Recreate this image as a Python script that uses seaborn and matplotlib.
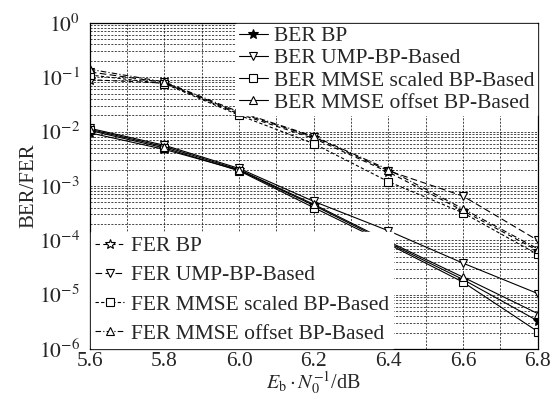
import matplotlib
matplotlib.use("Agg")
import numpy as np
import pandas as pd
import matplotlib.pyplot as plt
import seaborn as sns
from matplotlib.ticker import LogLocator, MultipleLocator, NullFormatter

# x axis: Eb/N0 in dB
ebn0 = [5.6, 5.8, 6.0, 6.2, 6.4, 6.6, 6.8]
schemes = ["BP", "UMP-BP-Based", "MMSE scaled BP-Based", "MMSE offset BP-Based"]

# solid curves (legend in the upper right says BER)
ber_bp = [9.5e-3, 4.7e-3, 1.95e-3, 4.4e-4, 9.0e-5, 1.9e-5, 3.3e-6]
ber_ump = [1.15e-2, 5.6e-3, 2.1e-3, 5.2e-4, 1.5e-4, 3.8e-5, 1.05e-5]
ber_scaled = [1.05e-2, 5.0e-3, 1.9e-3, 4.0e-4, 8.5e-5, 1.7e-5, 2.1e-6]
ber_offset = [1.1e-2, 5.3e-3, 2.0e-3, 4.6e-4, 9.5e-5, 2.1e-5, 4.5e-6]

# dashed curves (legend in the lower left says FER)
fer_bp = [9.0e-2, 7.8e-2, 2.1e-2, 7.5e-3, 1.8e-3, 3.5e-4, 6.5e-5]
fer_ump = [1.25e-1, 8.0e-2, 2.2e-2, 8.0e-3, 1.9e-3, 6.5e-4, 1.0e-4]
fer_scaled = [1.1e-1, 7.6e-2, 2.0e-2, 6.0e-3, 1.2e-3, 3.2e-4, 5.5e-5]
fer_offset = [1.4e-1, 8.2e-2, 2.3e-2, 8.2e-3, 2.0e-3, 3.8e-4, 7.0e-5]

y_ticks = [1e0, 1e-1, 1e-2, 1e-3, 1e-4, 1e-5, 1e-6]
y_tick_labels = [r"$10^{0}$", r"$10^{-1}$", r"$10^{-2}$", r"$10^{-3}$",
                 r"$10^{-4}$", r"$10^{-5}$", r"$10^{-6}$"]
x_ticks = [5.6, 5.8, 6.0, 6.2, 6.4, 6.6, 6.8]

sns.set_style("white")
plt.rcParams["font.family"] = ["Liberation Serif", "DejaVu Serif"]
plt.rcParams["mathtext.fontset"] = "stix"

markers = ["*", "v", "s", "^"]
fer_dashes = [(0, (4, 3)), (0, (6, 3)), (0, (3, 2)), (0, (5, 2, 1, 2))]

fig = plt.figure(figsize=(5.51, 3.94), dpi=100)
ax = fig.add_axes([0.163, 0.114, 0.813, 0.828])

ber_lines = []
for name, vals, m in zip(schemes, [ber_bp, ber_ump, ber_scaled, ber_offset], markers):
    sns.lineplot(x=ebn0, y=vals, ax=ax, color="black", linewidth=0.8,
                 marker=m, markersize=7 if m == "*" else 6,
                 markerfacecolor="black" if m == "*" else "white",
                 markeredgecolor="black", markeredgewidth=0.8,
                 label="BER " + name, legend=False)
    ber_lines.append(ax.get_lines()[-1])

fer_lines = []
for name, vals, m, ls in zip(schemes, [fer_bp, fer_ump, fer_scaled, fer_offset], markers, fer_dashes):
    sns.lineplot(x=ebn0, y=vals, ax=ax, color="black", linewidth=0.8, linestyle=ls,
                 marker=m, markersize=7 if m == "*" else 6,
                 markerfacecolor="white", markeredgecolor="black", markeredgewidth=0.8,
                 label="FER " + name, legend=False)
    fer_lines.append(ax.get_lines()[-1])

ax.set_yscale("log")
ax.set_xlim(5.6, 6.8)
ax.set_ylim(1e-6, 1e0)
ax.set_xticks(x_ticks)
ax.set_xticklabels([f"{v:.1f}" for v in x_ticks])
ax.xaxis.set_minor_locator(MultipleLocator(0.1))
ax.set_yticks(y_ticks)
ax.set_yticklabels(y_tick_labels)
ax.yaxis.set_minor_locator(LogLocator(base=10, subs=np.arange(2, 10)))
ax.yaxis.set_minor_formatter(NullFormatter())

ax.grid(which="both", color="black", linestyle=(0, (3, 2)), linewidth=0.5)
ax.tick_params(which="both", direction="in", labelsize=15.5, length=4, width=0.8,
               top=False, right=False, pad=2)
ax.tick_params(axis="y", pad=7)
ax.tick_params(which="minor", length=2)
for s in ax.spines.values():
    s.set_color("black")
    s.set_linewidth(0.9)

ax.set_xlabel(r"$E_{\rm b}\cdot N_0^{-1}$/dB", fontsize=14.5, labelpad=-1)
ax.set_ylabel("BER/FER", fontsize=15, labelpad=0)

leg1 = ax.legend(handles=ber_lines, loc="upper right", fontsize=15.5, frameon=True,
                 fancybox=False, edgecolor="white", framealpha=1, borderaxespad=0.05,
                 handlelength=1.35, handletextpad=0.3, labelspacing=0.1,
                 borderpad=0.1)
ax.add_artist(leg1)
leg2 = ax.legend(handles=fer_lines, loc="lower left", fontsize=15.5, frameon=True,
                 fancybox=False, edgecolor="white", framealpha=1, borderaxespad=0.05,
                 handlelength=1.35, handletextpad=0.3, labelspacing=0.42,
                 borderpad=0.2)

fig.savefig("out.png", dpi=100)
